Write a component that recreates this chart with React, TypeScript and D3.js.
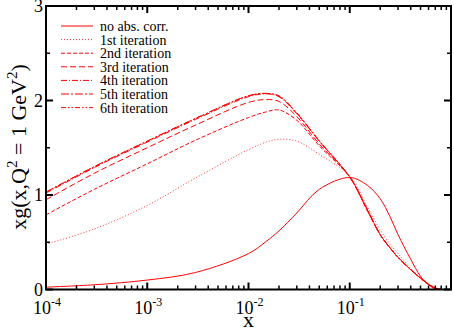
import React from "react";
import * as d3 from "d3";

// x grid (momentum fraction) shared by all curves
const xs = [0.0001, 0.0003, 0.001, 0.003, 0.01, 0.015, 0.02, 0.03, 0.05, 0.1, 0.15, 0.2, 0.25, 0.3, 0.4, 0.5, 0.6, 0.7, 0.8];

const noAbs = [0.025, 0.05, 0.1, 0.18, 0.38, 0.51, 0.62, 0.81, 1.06, 1.185, 1.1, 0.96, 0.77, 0.58, 0.32, 0.14, 0.05, 0.005, 0];
const iter1 = [0.48, 0.64, 0.89, 1.18, 1.48, 1.56, 1.59, 1.57, 1.43, 1.2, 0.87, 0.63, 0.48, 0.38, 0.22, 0.12, 0.06, 0.02, 0];
const iter2 = [0.79, 1.06, 1.33, 1.58, 1.82, 1.88, 1.9, 1.79, 1.52, 1.19, 0.83, 0.58, 0.44, 0.34, 0.21, 0.12, 0.055, 0.015, 0];
const iter3 = [0.95, 1.23, 1.5, 1.74, 1.98, 2.01, 1.99, 1.83, 1.54, 1.19, 0.83, 0.58, 0.44, 0.34, 0.21, 0.12, 0.055, 0.015, 0];
const iter4 = [1.02, 1.29, 1.56, 1.8, 2.04, 2.07, 2.04, 1.86, 1.57, 1.19, 0.84, 0.58, 0.44, 0.34, 0.21, 0.12, 0.055, 0.015, 0];
const iter5 = [1.03, 1.3, 1.57, 1.81, 2.05, 2.075, 2.045, 1.865, 1.57, 1.19, 0.84, 0.58, 0.44, 0.34, 0.21, 0.12, 0.055, 0.015, 0];
const iter6 = [1.03, 1.3, 1.57, 1.81, 2.05, 2.075, 2.05, 1.87, 1.575, 1.19, 0.84, 0.58, 0.44, 0.34, 0.21, 0.12, 0.055, 0.015, 0];

const labels = ["no abs. corr.", "1st iteration", "2nd iteration", "3rd iteration", "4th iteration", "5th iteration", "6th iteration"];
const yTicks = [0, 1, 2, 3];
const yMinor = [0.5, 1.5, 2.5];
const xDecades = [-4, -3, -2, -1];

const W = 454;
const H = 329;
const left = 46, right = 451, top = 6, bottom = 289.5;

const series = [
  { label: labels[0], values: noAbs, dash: "none", opacity: 1 },
  { label: labels[1], values: iter1, dash: "1,2", opacity: 0.8 },
  { label: labels[2], values: iter2, dash: "4,2", opacity: 1 },
  { label: labels[3], values: iter3, dash: "6,3", opacity: 1 },
  { label: labels[4], values: iter4, dash: "6,2,1,2", opacity: 1 },
  { label: labels[5], values: iter5, dash: "8,2,2,2", opacity: 1 },
  { label: labels[6], values: iter6, dash: "5,2,1.5,2,1.5,2", opacity: 1 },
];

export default function App() {
  const x = d3.scaleLog().domain([1e-4, 1]).range([left, right]);
  const y = d3.scaleLinear().domain([0, 3]).range([bottom, top]);

  const line = d3
    .line<number>()
    .x((d, i) => x(xs[i]))
    .y((d) => y(d))
    .curve(d3.curveCatmullRom.alpha(0.5));

  // minor ticks 2..9 in each decade
  const xMinor: number[] = [];
  xDecades.forEach((e) => {
    for (let k = 2; k <= 9; k++) xMinor.push(k * Math.pow(10, e));
  });

  const font = "'Liberation Serif', 'Times New Roman', Times, serif";
  const red = "#ff0000";

  return (
    <svg width={W} height={H} style={{ position: "absolute", left: 0, top: 0, fontFamily: font }}>
      <rect x={0} y={0} width={W} height={H} fill="#fff" />
      <defs>
        <clipPath id="plot">
          <rect x={left} y={top} width={right - left} height={bottom - top} />
        </clipPath>
      </defs>

      {/* curves */}
      <g clipPath="url(#plot)">
        {series.map((s) => (
          <path
            key={s.label}
            d={line(s.values) || ""}
            fill="none"
            stroke={red}
            strokeWidth={1}
            strokeDasharray={s.dash}
            strokeOpacity={s.opacity}
          />
        ))}
      </g>

      {/* frame */}
      <rect x={left} y={top} width={right - left} height={bottom - top} fill="none" stroke="#000" strokeWidth={2} />

      {/* y ticks, both sides */}
      {yTicks.map((t) => (
        <g key={"y" + t}>
          <line x1={left} x2={left + 7} y1={y(t)} y2={y(t)} stroke="#000" strokeWidth={2} />
          <line x1={right} x2={right - 7} y1={y(t)} y2={y(t)} stroke="#000" strokeWidth={2} />
          <text x={left - 3} y={y(t)} dy="0.35em" textAnchor="end" fontSize={18}>
            {t}
          </text>
        </g>
      ))}
      {yMinor.map((t) => (
        <g key={"ym" + t}>
          <line x1={left} x2={left + 4} y1={y(t)} y2={y(t)} stroke="#000" strokeWidth={1.5} />
          <line x1={right} x2={right - 4} y1={y(t)} y2={y(t)} stroke="#000" strokeWidth={1.5} />
        </g>
      ))}

      {/* x ticks, top and bottom */}
      {xDecades.map((e) => {
        const px = x(Math.pow(10, e));
        return (
          <g key={"x" + e}>
            <line x1={px} x2={px} y1={bottom} y2={bottom - 7} stroke="#000" strokeWidth={2} />
            <line x1={px} x2={px} y1={top} y2={top + 7} stroke="#000" strokeWidth={2} />
            <text x={px + 1} y={bottom + 24} textAnchor="middle" fontSize={18}>
              10
              <tspan dy={-8} fontSize={12}>
                {e}
              </tspan>
            </text>
          </g>
        );
      })}
      {xMinor.map((v) => (
        <g key={"xm" + v}>
          <line x1={x(v)} x2={x(v)} y1={bottom} y2={bottom - 4} stroke="#000" strokeWidth={1.5} />
          <line x1={x(v)} x2={x(v)} y1={top} y2={top + 4} stroke="#000" strokeWidth={1.5} />
        </g>
      ))}

      {/* axis titles */}
      <text x={(left + right) / 2} y={H - 2} textAnchor="middle" fontSize={22}>
        x
      </text>
      <text transform={`translate(26,147) rotate(-90)`} textAnchor="middle" fontSize={22}>
        xg(x,Q
        <tspan dy={-9} fontSize={15}>2</tspan>
        <tspan dy={9}> = 1 GeV</tspan>
        <tspan dy={-9} fontSize={15}>2</tspan>
        <tspan dy={9}>)</tspan>
      </text>

      {/* legend */}
      {series.map((s, i) => {
        const ly = 26 + i * 13.6;
        return (
          <g key={"lg" + i}>
            <line x1={61} x2={93} y1={ly} y2={ly} stroke={red} strokeWidth={1} strokeDasharray={s.dash} strokeOpacity={s.opacity} />
            <text x={100} y={ly} dy="0.35em" fontSize={14}>
              {s.label}
            </text>
          </g>
        );
      })}
    </svg>
  );
}
